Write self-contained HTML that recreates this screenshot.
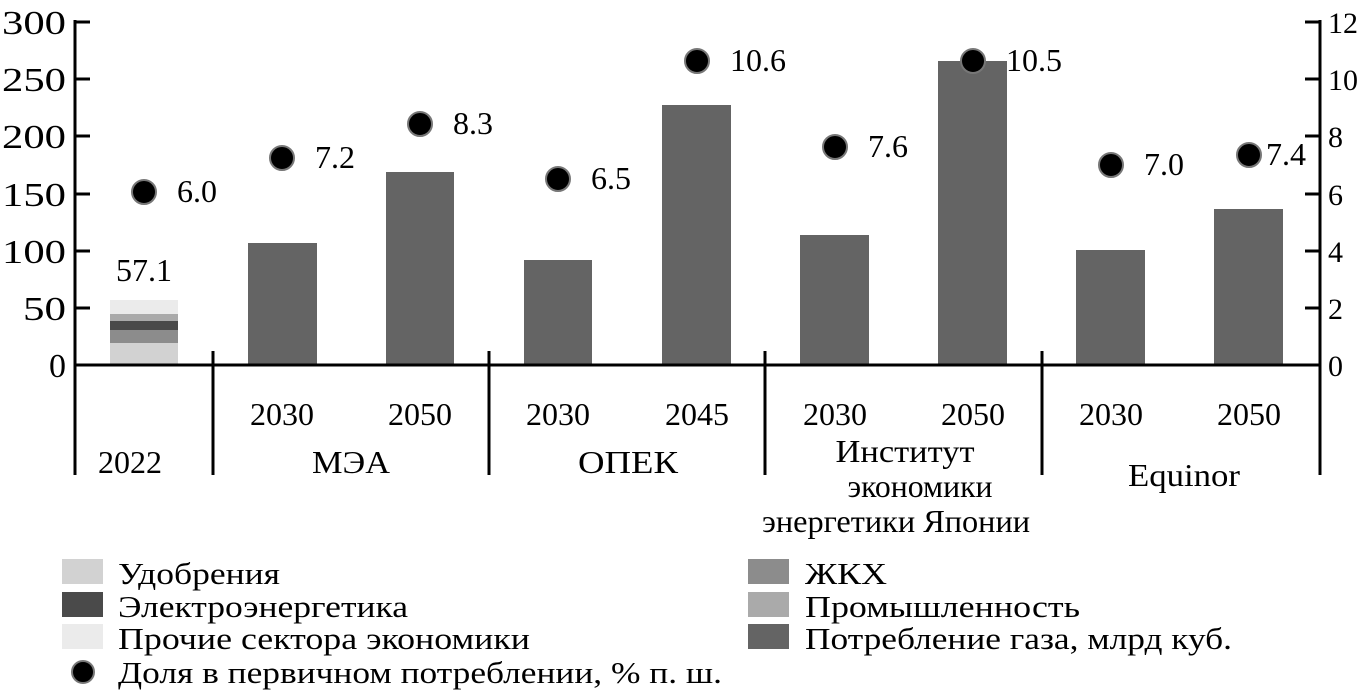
<!DOCTYPE html>
<html><head><meta charset="utf-8"><style>body{margin:0;background:#fff} text{font-family:"Liberation Serif",serif}</style></head><body>
<svg width="1361" height="695" xmlns="http://www.w3.org/2000/svg">
<g fill="#646464">
<rect x="248" y="243" width="69" height="122"/>
<rect x="386" y="172" width="68" height="193"/>
<rect x="524" y="260" width="68" height="105"/>
<rect x="662" y="105" width="69" height="260"/>
<rect x="800" y="235" width="69" height="130"/>
<rect x="938" y="61" width="69" height="304"/>
<rect x="1076" y="250" width="69" height="115"/>
<rect x="1214" y="209" width="69" height="156"/>
</g>
<rect x="110" y="300" width="68" height="14" fill="#ebebeb"/>
<rect x="110" y="314" width="68" height="7" fill="#aaaaaa"/>
<rect x="110" y="321" width="68" height="9" fill="#4a4a4a"/>
<rect x="110" y="330" width="68" height="13" fill="#8c8c8c"/>
<rect x="110" y="343" width="68" height="22" fill="#d2d2d2"/>
<g stroke="#000" stroke-width="3">
<line x1="75" y1="365" x2="1320" y2="365"/>
<line x1="75" y1="20" x2="75" y2="475"/>
<line x1="1320" y1="20" x2="1320" y2="475"/>
<line x1="213" y1="351" x2="213" y2="475"/>
<line x1="489" y1="351" x2="489" y2="475"/>
<line x1="765" y1="351" x2="765" y2="475"/>
<line x1="1042" y1="351" x2="1042" y2="475"/>
<line x1="75" y1="22" x2="90" y2="22"/><line x1="75" y1="79" x2="90" y2="79"/><line x1="75" y1="136" x2="90" y2="136"/><line x1="75" y1="194" x2="90" y2="194"/><line x1="75" y1="251" x2="90" y2="251"/><line x1="75" y1="308" x2="90" y2="308"/>
<line x1="1305" y1="22" x2="1320" y2="22"/><line x1="1305" y1="79" x2="1320" y2="79"/><line x1="1305" y1="136" x2="1320" y2="136"/><line x1="1305" y1="194" x2="1320" y2="194"/><line x1="1305" y1="251" x2="1320" y2="251"/><line x1="1305" y1="308" x2="1320" y2="308"/>
</g>
<g font-size="34" text-anchor="end">
<text x="66" y="34" textLength="64" lengthAdjust="spacingAndGlyphs">300</text><text x="66" y="91" textLength="64" lengthAdjust="spacingAndGlyphs">250</text><text x="66" y="148" textLength="64" lengthAdjust="spacingAndGlyphs">200</text><text x="66" y="206" textLength="64" lengthAdjust="spacingAndGlyphs">150</text><text x="66" y="263" textLength="64" lengthAdjust="spacingAndGlyphs">100</text><text x="66" y="320" textLength="43" lengthAdjust="spacingAndGlyphs">50</text><text x="66" y="377">0</text>
</g>
<g font-size="30">
<text x="1328" y="33">12</text><text x="1328" y="90">10</text><text x="1328" y="147">8</text><text x="1328" y="205">6</text><text x="1328" y="262">4</text><text x="1328" y="319">2</text><text x="1328" y="376">0</text>
</g>
<g font-size="32" text-anchor="middle">
<text x="144" y="281">57.1</text>
<text x="282" y="425">2030</text><text x="420" y="425">2050</text><text x="558" y="425">2030</text><text x="697" y="425">2045</text><text x="835" y="425">2030</text><text x="973" y="425">2050</text><text x="1111" y="425">2030</text><text x="1249" y="425">2050</text>
<text x="130" y="473">2022</text><text x="351" y="473" textLength="78" lengthAdjust="spacingAndGlyphs">МЭА</text><text x="628" y="473" textLength="100" lengthAdjust="spacingAndGlyphs">ОПЕК</text>
<text x="905" y="462" textLength="139" lengthAdjust="spacingAndGlyphs">Институт</text><text x="920" y="497" textLength="145" lengthAdjust="spacingAndGlyphs">экономики</text><text x="896" y="532" textLength="268" lengthAdjust="spacingAndGlyphs">энергетики Японии</text>
<text x="1184" y="486" textLength="112" lengthAdjust="spacingAndGlyphs">Equinor</text>
</g>
<g fill="#000" stroke="#777" stroke-width="2">
<circle cx="144" cy="192" r="12"/><circle cx="282" cy="158" r="12"/><circle cx="420" cy="124" r="12"/><circle cx="558" cy="179" r="12"/><circle cx="697" cy="61" r="12"/><circle cx="835" cy="147" r="12"/><circle cx="973" cy="61" r="12"/><circle cx="1111" cy="165" r="12"/><circle cx="1249" cy="155" r="12"/>
<circle cx="83" cy="672" r="11"/>
</g>
<g font-size="32">
<text x="177" y="202">6.0</text><text x="315" y="168">7.2</text><text x="453" y="134">8.3</text><text x="591" y="189">6.5</text><text x="730" y="71">10.6</text><text x="868" y="157">7.6</text><text x="1006" y="71">10.5</text><text x="1144" y="175">7.0</text><text x="1266" y="165">7.4</text>
</g>
<rect x="62" y="559" width="41" height="25" fill="#d2d2d2"/>
<rect x="62" y="592" width="41" height="25" fill="#4a4a4a"/>
<rect x="62" y="624" width="41" height="25" fill="#ebebeb"/>
<rect x="748" y="559" width="41" height="25" fill="#8c8c8c"/>
<rect x="748" y="592" width="41" height="25" fill="#aaaaaa"/>
<rect x="748" y="624" width="41" height="25" fill="#646464"/>
<g font-size="31">
<text x="118" y="584" textLength="162" lengthAdjust="spacingAndGlyphs">Удобрения</text>
<text x="118" y="617" textLength="290" lengthAdjust="spacingAndGlyphs">Электроэнергетика</text>
<text x="118" y="649" textLength="412" lengthAdjust="spacingAndGlyphs">Прочие сектора экономики</text>
<text x="118" y="683" textLength="604" lengthAdjust="spacingAndGlyphs">Доля в первичном потреблении, % п. ш.</text>
<text x="805" y="584" textLength="82" lengthAdjust="spacingAndGlyphs">ЖКХ</text>
<text x="805" y="617" textLength="275" lengthAdjust="spacingAndGlyphs">Промышленность</text>
<text x="805" y="649" textLength="427" lengthAdjust="spacingAndGlyphs">Потребление газа, млрд куб.</text>
</g>
</svg>
</body></html>
